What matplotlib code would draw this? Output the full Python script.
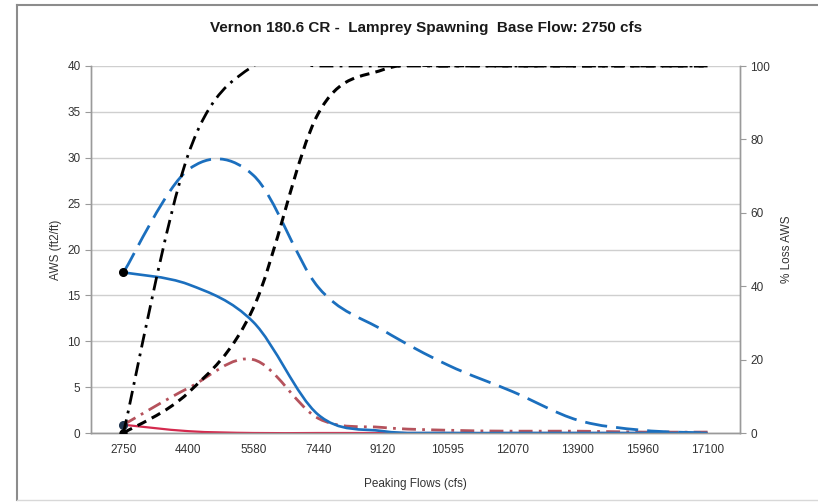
import numpy as np
import matplotlib
matplotlib.use("Agg")
import matplotlib.pyplot as plt
from matplotlib.path import Path
from matplotlib.patches import PathPatch
from matplotlib.lines import Line2D

plt.rcParams["font.family"] = ["Liberation Sans", "DejaVu Sans"]
plt.rcParams["lines.scale_dashes"] = False

# ---------- data ----------
flows = ["2750", "4400", "5580", "7440", "9120", "10595", "12070", "13900", "15960", "17100"]

# left axis (AWS, ft2/ft)
aws_blue_solid = [17.5, 16.2, 12.1, 2.0, 0.2, 0.0, 0.0, 0.0, 0.0, 0.0]
aws_blue_dash = [17.5, 28.7, 28.1, 15.9, 11.2, 7.4, 4.5, 1.4, 0.3, 0.0]
aws_red_dashdot = [0.9, 4.9, 8.0, 1.6, 0.6, 0.3, 0.2, 0.2, 0.1, 0.1]
aws_red_solid = [0.9, 0.2, 0.0, 0.0, 0.0, 0.0, 0.0, 0.0, 0.0, 0.0]

# right axis (% loss AWS)
loss_dashdot = [0, 76, 100, 100, 100, 100, 100, 100, 100, 100]
loss_dash = [0, 11, 34, 87, 99, 100, 100, 100, 100, 100]


def smooth_path(xs, ys):
    """Excel-like smoothed line as a cubic bezier path through the points."""
    pts = np.column_stack([xs, ys]).astype(float)
    n = len(pts)
    verts = [pts[0]]
    codes = [Path.MOVETO]
    for i in range(n - 1):
        p0 = pts[max(i - 1, 0)]
        p1 = pts[i]
        p2 = pts[i + 1]
        p3 = pts[min(i + 2, n - 1)]
        verts += [p1 + (p2 - p0) / 6, p2 - (p3 - p1) / 6, p2]
        codes += [Path.CURVE4] * 3
    return Path(verts, codes)


def add_curve(ax, ys, color, lw, ls, z=3):
    xs = np.arange(len(ys))
    patch = PathPatch(smooth_path(xs, ys), fill=False, edgecolor=color,
                      linewidth=lw, linestyle=ls, zorder=z, capstyle="butt")
    ax.add_patch(patch)


fig = plt.figure(figsize=(8.18, 5.03), dpi=100)
ax = fig.add_axes([91 / 818, 1 - 433 / 503, (740 - 91) / 818, (433 - 66) / 503])
ax2 = ax.twinx()

blue = "#1b6fbe"
red = "#d42a4e"
red_dd = "#b5525c"
grid_c = "#cfcfcf"
txt_c = "#333333"

ax.set_xlim(-0.5, len(flows) - 0.5)
ax.set_ylim(0, 40)
ax2.set_ylim(0, 100)

add_curve(ax, aws_red_solid, red, 1.6, "-")
add_curve(ax, aws_red_dashdot, red_dd, 2.0, (0, (10, 4.5, 2, 4.5)))
add_curve(ax, aws_blue_dash, blue, 2.0, (0, (16, 6.5)))
add_curve(ax, aws_blue_solid, blue, 1.9, "-")
ax.plot([0], [aws_blue_solid[0]], "o", color="black", ms=5.5, zorder=5)
ax.plot([0], [aws_red_dashdot[0]], "o", color="#1f3550", ms=5.5, zorder=5)

add_curve(ax2, loss_dashdot, "black", 2.0, (0, (10, 4.5, 2, 4.5)))
add_curve(ax2, loss_dash, "black", 2.2, (0, (7, 4.5)))
ax2.plot([0], [loss_dash[0]], "o", color="black", ms=5, zorder=5)

# grid / spines
ax.set_yticks(np.arange(0, 41, 5))
ax.yaxis.grid(True, color=grid_c, linewidth=1.0)
ax.set_axisbelow(True)
ax2.set_yticks(np.arange(0, 101, 20))
ax.set_xticks(range(len(flows)))
ax.set_xticklabels(flows)

for a in (ax, ax2):
    for s in a.spines.values():
        s.set_color("#9a9a9a")
        s.set_linewidth(1.0)
    a.spines["top"].set_visible(False)
    a.tick_params(colors="#9a9a9a", labelcolor=txt_c, labelsize=8.5, length=4, width=0.8)
ax.tick_params(axis="x", length=0, pad=8)

ax.set_ylabel("AWS (ft2/ft)", fontsize=8.5, color=txt_c, labelpad=4)
ax2.set_ylabel("% Loss AWS", fontsize=8.5, color=txt_c, labelpad=8)
ax.set_xlabel("Peaking Flows (cfs)", fontsize=8.5, color=txt_c, labelpad=16)

fig.text(426 / 818, 1 - 28 / 503, "Vernon 180.6 CR -  Lamprey Spawning  Base Flow: 2750 cfs",
         ha="center", va="center", fontsize=11, fontweight="bold", color="#1a1a1a")

# chart frame
frame_c = "#8c8c8c"
x0, x1 = 17 / 818, 1.0
y0, y1 = 1 - 500 / 503, 1 - 5 / 503
fig.add_artist(Line2D([x0, x0], [y0, y1], color=frame_c, lw=1.5, transform=fig.transFigure))
fig.add_artist(Line2D([x0, x1], [y1, y1], color=frame_c, lw=1.5, transform=fig.transFigure))
fig.add_artist(Line2D([x0, x1], [y0, y0], color="#d8d8d8", lw=1.0, transform=fig.transFigure))

fig.savefig("out.png", dpi=100)
